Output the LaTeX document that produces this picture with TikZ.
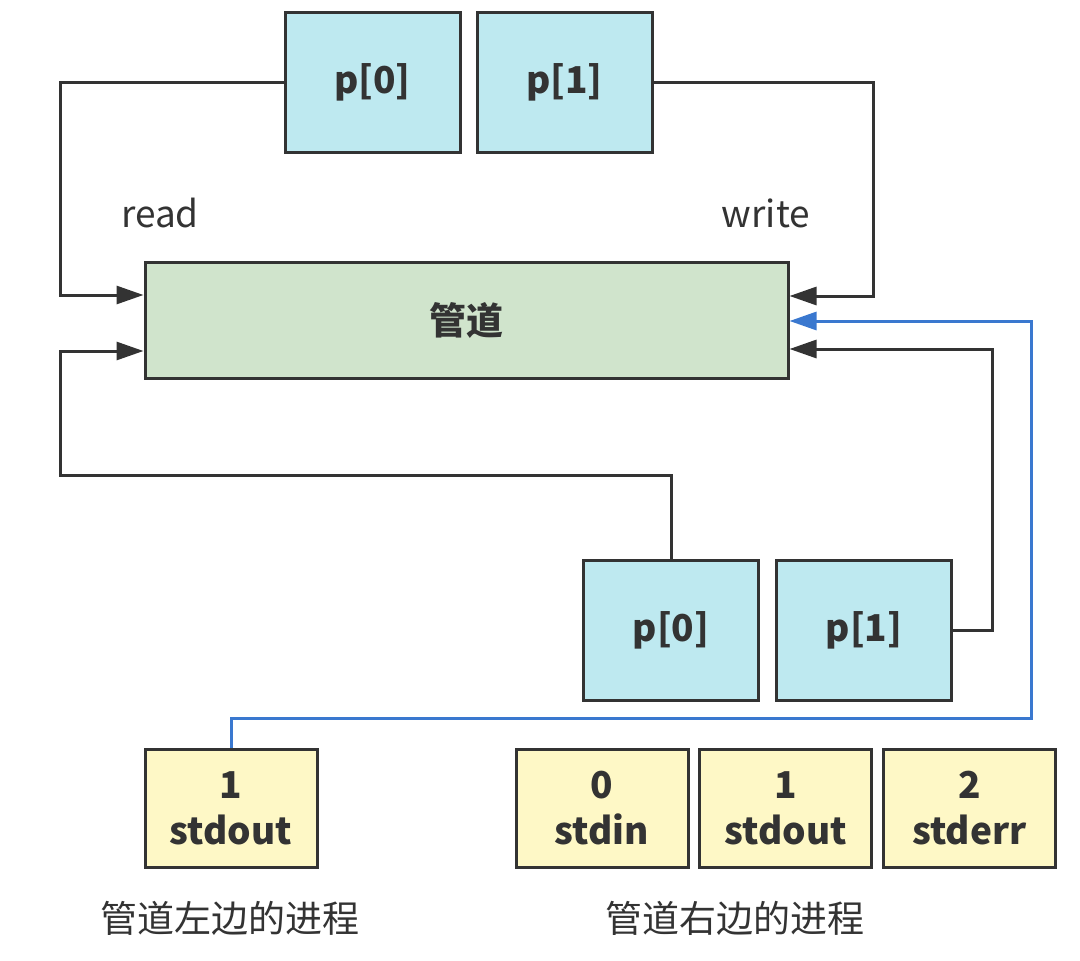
\documentclass[tikz,border=0pt]{standalone}
\usepackage{fontspec}
\setmainfont{Noto Sans CJK SC}
\usetikzlibrary{arrows.meta}
\definecolor{pipecyan}{HTML}{BEE9F0}
\definecolor{tubegreen}{HTML}{D0E4CC}
\definecolor{fdyellow}{HTML}{FEF8C6}
\definecolor{edge}{HTML}{333333}
\definecolor{linkblue}{HTML}{3A78CF}
\tikzset{
	box/.style={draw=edge, line width=3pt, text=edge, font=\fontsize{37}{46}\selectfont\bfseries, align=center, inner sep=0pt},
	pipebox/.style={box, fill=pipecyan, minimum width=175pt, minimum height=140pt},
	tube/.style={box, fill=tubegreen, minimum width=643pt, minimum height=116pt},
	fdbox/.style={box, fill=fdyellow, minimum width=172pt, minimum height=118pt},
	lbl/.style={text=edge, font=\fontsize{37}{44}\selectfont},
	link/.style={draw=edge, line width=3pt, -{Triangle[length=27pt,width=18pt]}},
	bluelink/.style={draw=linkblue, line width=3pt, -{Triangle[length=27pt,width=18pt]}}
}
\begin{document}
\begin{tikzpicture}[x=1pt, y=-1pt]
	\useasboundingbox (0,0) rectangle (1080,961);
	\node[pipebox] (tp0) at (372.5,82) {p[0]};
	\node[pipebox] (tp1) at (564.5,82) {p[1]};
	\node[tube] (pipe) at (466.5,320) {管道};
	\node[pipebox] (bp0) at (671,630) {p[0]};
	\node[pipebox] (bp1) at (864,630) {p[1]};
	\node[fdbox] (lout) at (231,808) {1\\stdout};
	\foreach \n/\x/\d/\s in {rin/602/0/stdin, rout/785.5/1/stdout, rerr/969.5/2/stderr}{
		\node[fdbox] (\n) at (\x,808) {\d\\\s};
	}
	\node[lbl] (read) at (160,213) {read};
	\node[lbl] (write) at (766,213) {write};
	\node[lbl] (lproc) at (230,918) {管道左边的进程};
	\node[lbl] (rproc) at (735,918) {管道右边的进程};
	\coordinate (lrail) at (60,0);
	\coordinate (lbend) at (60,475);
	\coordinate (rrail) at (873,0);
	\coordinate (rrail2) at (992,0);
	\coordinate (bbend) at (1031,718);
	\draw[link] (tp0.west) -- (tp0.west -| lrail) |- ([yshift=25pt]pipe.west);
	\draw[link] (bp0.north) |- (lbend) |- ([yshift=-31pt]pipe.west);
	\draw[link] (tp1.east) -- (tp1.east -| rrail) |- ([yshift=24pt]pipe.east);
	\draw[link] (bp1.east) -- (bp1.east -| rrail2) |- ([yshift=-29pt]pipe.east);
	\draw[bluelink] (lout.north) |- (bbend) |- ([yshift=-1pt]pipe.east);
\end{tikzpicture}
\end{document}
